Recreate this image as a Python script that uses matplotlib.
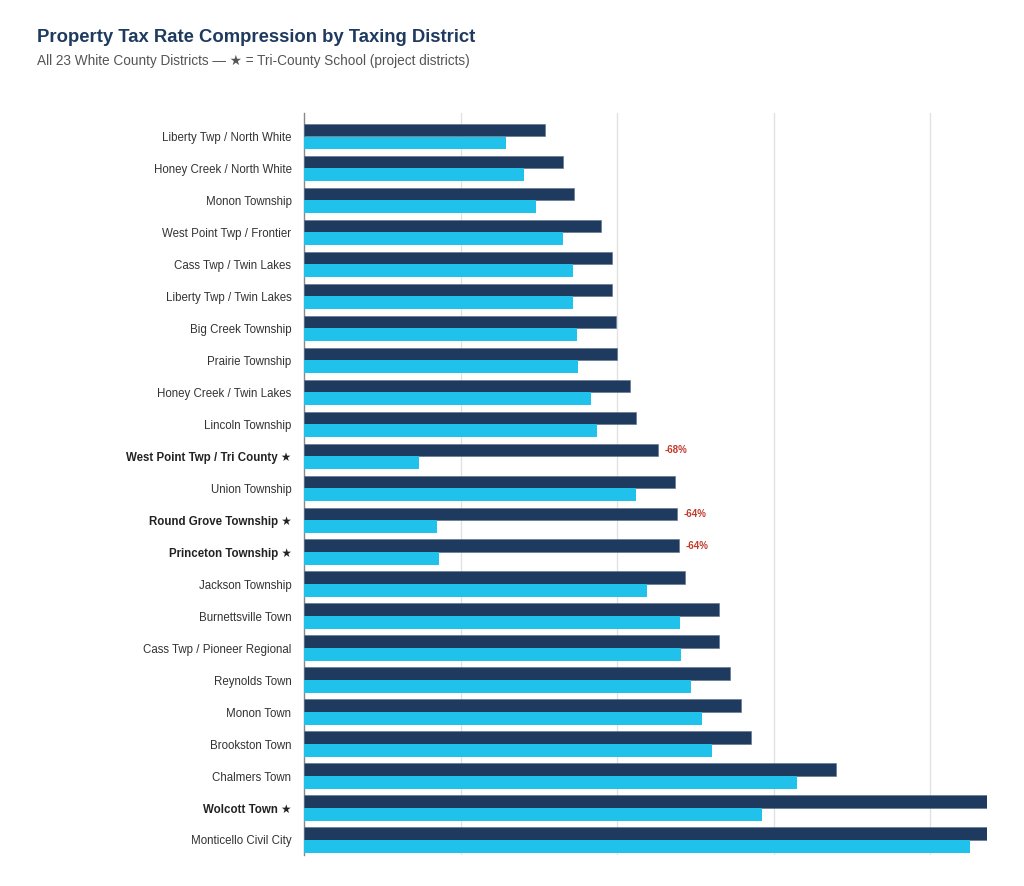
import matplotlib
matplotlib.use("Agg")
import matplotlib.pyplot as plt
import numpy as np

plt.rcParams['font.family'] = ['Liberation Sans', 'DejaVu Sans']

districts = [
    "Liberty Twp / North White", "Honey Creek / North White", "Monon Township",
    "West Point Twp / Frontier", "Cass Twp / Twin Lakes", "Liberty Twp / Twin Lakes",
    "Big Creek Township", "Prairie Township", "Honey Creek / Twin Lakes",
    "Lincoln Township", "West Point Twp / Tri County", "Union Township",
    "Round Grove Township", "Princeton Township", "Jackson Township",
    "Burnettsville Town", "Cass Twp / Pioneer Regional", "Reynolds Town",
    "Monon Town", "Brookston Town", "Chalmers Town", "Wolcott Town",
    "Monticello Civil City",
]
project = [False, False, False, False, False, False, False, False, False, False,
           True, False, True, True, False, False, False, False, False, False,
           False, True, False]
rate_before = [1.54, 1.655, 1.725, 1.898, 1.968, 1.968, 1.994, 2.00, 2.083, 2.121,
               2.262, 2.371, 2.383, 2.396, 2.435, 2.652, 2.652, 2.722, 2.792, 2.856,
               3.399, 4.364, 4.364]
rate_after = [1.29, 1.406, 1.482, 1.655, 1.719, 1.719, 1.744, 1.751, 1.834, 1.872,
              0.735, 2.121, 0.85, 0.863, 2.192, 2.403, 2.409, 2.473, 2.543, 2.607,
              3.150, 2.927, 4.256]
change_labels = {10: "-68%", 12: "-64%", 13: "-64%"}

dark = "#1f3a5f"
cyan = "#20c1ea"

fig = plt.figure(figsize=(10.24, 8.86), dpi=100)
ax = fig.add_axes([304/1024, 1-855/886, (987-304)/1024, (855-113)/886])

y = np.arange(len(districts))
h = 0.39
ax.barh(y - h/2 - 0.005, rate_before, height=h, color=dark, edgecolor="#5a6f8a", linewidth=0.4, zorder=3)
ax.barh(y + h/2 + 0.005, rate_after, height=h, color=cyan, zorder=3)

for i, lab in change_labels.items():
    ax.annotate(lab, xy=(rate_before[i], y[i] - h/2), xytext=(5, 0),
                textcoords="offset points", ha="left", va="center",
                fontsize=7, fontweight="bold", color="#c0392b")

ax.set_xlim(0, 4.364)
ax.set_ylim(22.47, -0.73)
ax.set_xticks([1, 2, 3, 4])
ax.set_xticklabels([])
ax.tick_params(axis="x", length=0)
ax.grid(axis="x", color="#e2e2e2", linewidth=1, zorder=0)
ax.set_yticks(y)
labels = [d + " ★" if p else d for d, p in zip(districts, project)]
ax.set_yticklabels(labels)
ax.tick_params(axis="y", length=0, pad=9, labelsize=8.3, labelcolor="#333333")
for t, p in zip(ax.get_yticklabels(), project):
    if p:
        t.set_fontweight("bold")
        t.set_color("#222222")
for s in ["top", "right", "bottom"]:
    ax.spines[s].set_visible(False)
ax.spines["left"].set_color("#888888")
ax.spines["left"].set_linewidth(1)

fig.text(37/1024, 1-38/886, "Property Tax Rate Compression by Taxing District",
         fontsize=13.3, fontweight="bold", color="#1f3a5f", va="center", ha="left")
fig.text(37/1024, 1-61/886, "All 23 White County Districts — ★ = Tri-County School (project districts)",
         fontsize=9.8, color="#555555", va="center", ha="left")

fig.savefig("out.png", dpi=100, facecolor="white")
